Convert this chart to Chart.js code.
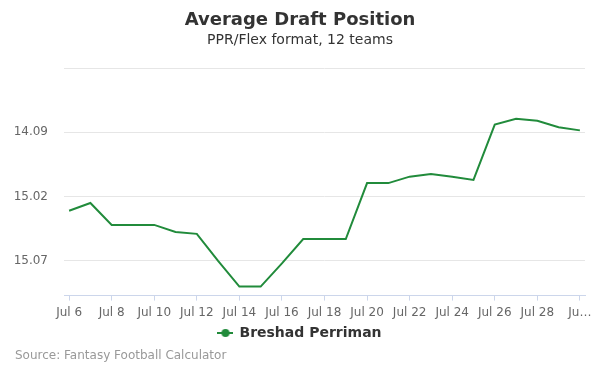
<!DOCTYPE html>
<html>
<head>
<meta charset="utf-8">
<script src="https://cdn.jsdelivr.net/npm/chart.js@4.4.0/dist/chart.umd.min.js"></script>
<style>
    html, body { margin: 0; padding: 0; background: #fff; }
    #wrap { width: 600px; height: 375px; position: relative; }
</style>
</head>
<body>
<div id="wrap"><canvas id="adpChart"></canvas></div>
<script>
// Dates shown on the x axis (one point per day)
const days = ['Jul 6', 'Jul 7', 'Jul 8', 'Jul 9', 'Jul 10', 'Jul 11', 'Jul 12', 'Jul 13',
    'Jul 14', 'Jul 15', 'Jul 16', 'Jul 17', 'Jul 18', 'Jul 19', 'Jul 20', 'Jul 21',
    'Jul 22', 'Jul 23', 'Jul 24', 'Jul 25', 'Jul 26', 'Jul 27', 'Jul 28', 'Jul 29', 'Jul 30'];

// Overall pick number (12 team league)
const adp = [171.1, 170.5, 172.2, 172.2, 172.2, 172.75, 172.9, 175.0,
    177.0, 177.0, 175.2, 173.3, 173.3, 173.3, 168.95, 168.95,
    168.45, 168.25, 168.45, 168.7, 164.4, 163.95, 164.1, 164.6, 164.85];

// y ticks (overall picks) and which x ticks get labels
const yTicks = [160, 165, 170, 175];
const xTicks = [0, 2, 4, 6, 8, 10, 12, 14, 16, 18, 20, 22, 24];

const seriesName = 'Breshad Perriman';
const lineColor = '#218b3b';
const teams = 12;

// 165 -> "14.09"
function pickLabel(p) {
    const round = Math.floor((p - 1) / teams) + 1;
    const pick = Math.round(p - (round - 1) * teams);
    return round + '.' + String(pick).padStart(2, '0');
}

// legend marker: line with a dot, like the original
function legendMarker() {
    const c = document.createElement('canvas');
    c.width = 16;
    c.height = 10;
    const g = c.getContext('2d');
    g.strokeStyle = lineColor;
    g.lineWidth = 2;
    g.beginPath();
    g.moveTo(0, 5);
    g.lineTo(16, 5);
    g.stroke();
    g.fillStyle = lineColor;
    g.beginPath();
    g.arc(8, 5, 4, 0, Math.PI * 2);
    g.fill();
    return c;
}

const sourcePlugin = {
    id: 'sourceText',
    afterDraw(chart) {
        const ctx = chart.ctx;
        ctx.save();
        ctx.font = '12px "DejaVu Sans"';
        ctx.fillStyle = '#999999';
        ctx.textAlign = 'left';
        ctx.textBaseline = 'middle';
        ctx.fillText('Source: Fantasy Football Calculator', 15, 356);
        ctx.restore();
    }
};

document.addEventListener('DOMContentLoaded', () => {
    const ctx = document.getElementById('adpChart').getContext('2d');
    const marker = legendMarker();

    new Chart(ctx, {
        type: 'line',
        data: {
            datasets: [{
                label: seriesName,
                data: adp.map((v, i) => ({ x: i, y: v })),
                borderColor: lineColor,
                backgroundColor: lineColor,
                borderWidth: 2,
                pointRadius: 0,
                tension: 0,
                fill: false
            }]
        },
        options: {
            responsive: true,
            maintainAspectRatio: false,
            animation: false,
            layout: {
                padding: { left: 15, right: 15, top: 0, bottom: 25 }
            },
            plugins: {
                title: {
                    display: true,
                    text: 'Average Draft Position',
                    color: '#333333',
                    font: { family: 'DejaVu Sans', size: 18, weight: 'bold' },
                    padding: { top: 10, bottom: 0 }
                },
                subtitle: {
                    display: true,
                    text: 'PPR/Flex format, 12 teams',
                    color: '#333333',
                    font: { family: 'DejaVu Sans', size: 14 },
                    padding: { top: 0, bottom: 19.6 }
                },
                legend: {
                    position: 'bottom',
                    labels: {
                        color: '#333333',
                        font: { family: 'DejaVu Sans', size: 14, weight: 'bold' },
                        usePointStyle: true,
                        padding: 1,
                        generateLabels: (chart) => [{
                            text: seriesName,
                            pointStyle: marker,
                            fillStyle: lineColor,
                            strokeStyle: lineColor,
                            fontColor: '#333333',
                            datasetIndex: 0
                        }]
                    }
                },
                tooltip: { enabled: false }
            },
            scales: {
                x: {
                    type: 'linear',
                    min: -0.24,
                    max: 24.24,
                    afterBuildTicks: (scale) => {
                        scale.ticks = xTicks.map(v => ({ value: v }));
                    },
                    grid: {
                        drawOnChartArea: false,
                        drawTicks: true,
                        tickLength: 5,
                        color: '#ccd6eb'
                    },
                    border: { display: true, color: '#ccd6eb' },
                    ticks: {
                        autoSkip: false,
                        maxRotation: 0,
                        padding: 5,
                        color: '#666666',
                        font: { family: 'DejaVu Sans', size: 12 },
                        callback: (v) => v === days.length - 1 ? 'Ju…' : days[v]
                    }
                },
                y: {
                    type: 'linear',
                    reverse: true,
                    min: 160,
                    max: 177.7,
                    afterBuildTicks: (scale) => {
                        scale.ticks = yTicks.map(v => ({ value: v }));
                    },
                    afterFit: (scale) => {
                        scale.width = 49;
                    },
                    grid: {
                        color: '#e6e6e6',
                        drawTicks: false
                    },
                    border: { display: false },
                    ticks: {
                        padding: 16,
                        color: '#666666',
                        font: { family: 'DejaVu Sans', size: 12 },
                        callback: (v) => v === 160 ? '' : pickLabel(v)
                    }
                }
            }
        },
        plugins: [sourcePlugin]
    });
});
</script>
</body>
</html>
